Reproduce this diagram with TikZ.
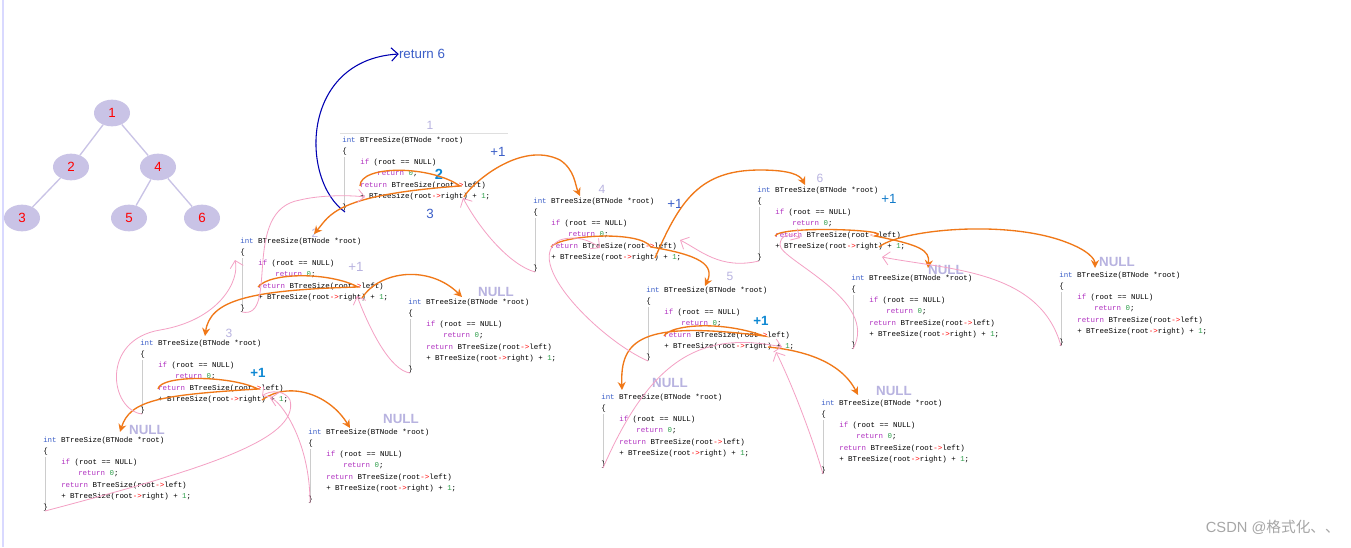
\documentclass[tikz,border=0pt]{standalone}
\usepackage{fontspec}
\setmainfont{Liberation Sans}
\newfontfamily\cmono{Liberation Mono}
\newfontfamily\cjk{Noto Sans CJK SC}
\usetikzlibrary{arrows.meta}
\definecolor{kw}{HTML}{3C5FC8}
\definecolor{kp}{HTML}{B030C0}
\definecolor{kg}{HTML}{2E9E4A}
\definecolor{lav}{HTML}{B8B3E0}
\definecolor{nodef}{HTML}{C9C3E6}
\definecolor{org}{HTML}{F07818}
\definecolor{pnk}{HTML}{F4A0C4}
\tikzset{
 x=0.75pt,y=-0.75pt,
 cl/.style={anchor=west,inner sep=0,font=\cmono\fontsize{5.6}{6}\selectfont},
 lab/.style={inner sep=0,font=\fontsize{9}{10}\selectfont,text=lav},
 labb/.style={inner sep=0,font=\bfseries\fontsize{10}{11}\selectfont,text=lav},
 tn/.style={ellipse,fill=nodef,minimum width=27pt,minimum height=20pt,inner sep=0,text=red,font=\fontsize{10}{11}\selectfont},
 te/.style={draw=nodef,line width=1pt},
 oa/.style={draw=org,line width=1pt,-{Stealth[length=6pt,width=6pt]}},
 pa/.style={draw=pnk,line width=0.6pt,-{Straight Barb[length=5pt]}},
 pl/.style={inner sep=0,font=\fontsize{10}{11}\selectfont}
}
\usetikzlibrary{shapes.geometric}
\newcommand\blk[3]{%
 \begin{scope}[shift={(#2,#3)}]
 \node[cl] (#1) at (0,0) {\textcolor{kw}{int} BTreeSize(BTNode *root)};
 \node[cl] at (0,11) {\{};
 \draw[gray!40,line width=0.3pt] (2,16)--(2,64);
 \node[cl] at (18,22) {\textcolor{kp}{if} (root == NULL)};
 \node[cl] at (35,33) {\textcolor{kp}{return} \textcolor{kg}{0};};
 \node[cl] at (18,45) {\textcolor{kp}{return} BTreeSize(root\textcolor{red}{->}left)};
 \node[cl] at (18,56) {+ BTreeSize(root\textcolor{red}{->}right) + \textcolor{kg}{1};};
 \node[cl] at (0,67) {\}};
 \coordinate (#1L) at (118,45);
 \coordinate (#1R) at (122,56);
 \coordinate (#1S) at (18,45);
 \coordinate (#1E) at (2,70);
 \end{scope}}
\begin{document}
\begin{tikzpicture}
\useasboundingbox[fill=white] (0,0) rectangle (1351,547);
\draw[blue!15,line width=2pt] (3,0)--(3,547);
% tree
\node[tn] (n1) at (112,113) {1};
\node[tn] (n2) at (71,167) {2};
\node[tn] (n4) at (158,167) {4};
\node[tn] (n3) at (22,218) {3};
\node[tn] (n5) at (129,218) {5};
\node[tn] (n6) at (202,218) {6};
\draw[te] (n1)--(n2); \draw[te] (n1)--(n4); \draw[te] (n2)--(n3);
\draw[te] (n4)--(n5); \draw[te] (n4)--(n6);
% blocks
\draw[gray!25] (340,133)--(508,133);
\blk{b1}{342}{141} \node[lab] at (430,125) {1};
\blk{b2}{240}{242} \node[lab] at (315,233) {2};
\blk{b3}{140}{344} \node[lab] at (229,333) {3};
\blk{bn1}{43}{441} \node[labb] at (147,430) {NULL};
\blk{bn2}{308}{433} \node[labb] at (401,419) {NULL};
\blk{bn3}{408}{303} \node[labb] at (496,292) {NULL};
\blk{b4}{533}{202} \node[lab] at (602,189) {4};
\blk{b5}{646}{291} \node[lab] at (730,276) {5};
\blk{bn4}{601}{398} \node[labb] at (670,383) {NULL};
\blk{bn5}{821}{404} \node[labb] at (894,391) {NULL};
\blk{b6}{757}{191} \node[lab] at (820,178) {6};
\blk{bn6}{851}{279} \node[labb] at (946,270) {NULL};
\blk{bn7}{1059}{276} \node[labb] at (1117,262) {NULL};
% annotations
\node[pl,text=kw] (p1) at (498,152) {+1};
\node[pl,text=cyan!70!blue,font=\bfseries\fontsize{11}{12}\selectfont] (s2) at (439,174) {2};
\node[pl,text=kw] (s3) at (430,214) {3};
\node[pl,text=lav] (p2) at (356,267) {+1};
\node[pl,text=cyan!70!blue,font=\bfseries\fontsize{10}{11}\selectfont] (p3) at (258,373) {+1};
\node[pl,text=kw] (p4) at (675,204) {+1};
\node[pl,text=cyan!70!blue,font=\bfseries\fontsize{10}{11}\selectfont] (p5) at (761,321) {+1};
\node[pl,text=cyan!60!blue] (p6) at (889,199) {+1};
\node[pl,text=kw,font=\fontsize{10}{11}\selectfont] (r6) at (422,54) {return 6};
\coordinate (bstart) at (345,212);
\draw[blue!70!black,line width=0.8pt,-{Straight Barb[length=5pt]}] (bstart) .. controls (300,180) and (300,60) .. (r6.west);
% orange calls
\draw[oa] (b1S) .. controls (360,165) and (430,165) .. (b1L) .. controls (335,195) and (330,215) .. (314,234);
\draw[oa] (b1R) .. controls (470,185) and (520,140) .. (560,160) .. controls (575,170) and (575,185) .. (580,196);
\draw[oa] (b2S) .. controls (270,272) and (330,272) .. (b2L) .. controls (250,290) and (210,300) .. (205,336);
\draw[oa] (b2R) .. controls (380,270) and (430,265) .. (462,297);
\draw[oa] (b3S) .. controls (160,375) and (230,375) .. (b3L) .. controls (160,395) and (130,400) .. (120,432);
\draw[oa] (b3R) .. controls (290,380) and (330,395) .. (350,428);
\draw[oa] (b4S) .. controls (560,235) and (640,230) .. (b4L) .. controls (700,255) and (715,265) .. (705,286);
\draw[oa] (b4R) .. controls (680,200) and (700,170) .. (760,170) .. controls (790,170) and (800,175) .. (805,185);
\draw[oa] (b5S) .. controls (670,325) and (720,320) .. (b5L) .. controls (640,320) and (620,340) .. (622,390);
\draw[oa] (b5R) .. controls (800,350) and (840,360) .. (858,395);
\draw[oa] (b6S) .. controls (780,225) and (900,230) .. (b6L) .. controls (920,245) and (930,250) .. (928,268);
\draw[oa] (b6R) .. controls (900,230) and (1000,220) .. (1060,240) .. controls (1090,250) and (1095,260) .. (1095,268);
% pink returns
\draw[pa] (bn1E) .. controls (200,470) and (300,440) .. (290,400) .. controls (285,390) and (270,390) .. (262,396);
\draw[pa] (bn2E) .. controls (310,440) and (280,400) .. (270,398);
\draw[pa] (b3E) .. controls (110,410) and (100,340) .. (160,330) .. controls (220,320) and (240,280) .. (235,260) ;
\draw[pa] (bn3E) .. controls (390,370) and (370,330) .. (357,296);
\draw[pa] (b2E) .. controls (280,320) and (240,210) .. (300,200) .. controls (320,195) and (350,195) .. (365,197);
\draw[pa] (bn4E) .. controls (650,360) and (700,330) .. (782,347);
\draw[pa] (bn5E) .. controls (810,430) and (790,380) .. (776,352);
\draw[pa] (b5E) .. controls (600,340) and (520,260) .. (560,240) .. controls (575,235) and (590,240) .. (600,248);
\draw[pa] (b4E) .. controls (510,265) and (480,230) .. (463,198);
\draw[pa] (bn6E) .. controls (880,300) and (780,260) .. (780,245) .. controls (780,235) and (790,232) .. (800,238);
\draw[pa] (bn7E) .. controls (1040,270) and (950,270) .. (882,257);
\draw[pa] (b6E) .. controls (720,270) and (700,250) .. (680,240);
\node[inner sep=0,text=gray!70,font=\fontsize{11}{12}\selectfont,anchor=east] (wm) at (1340,527) {CSDN @{\cjk 格式化、、}};
\end{tikzpicture}
\end{document}
